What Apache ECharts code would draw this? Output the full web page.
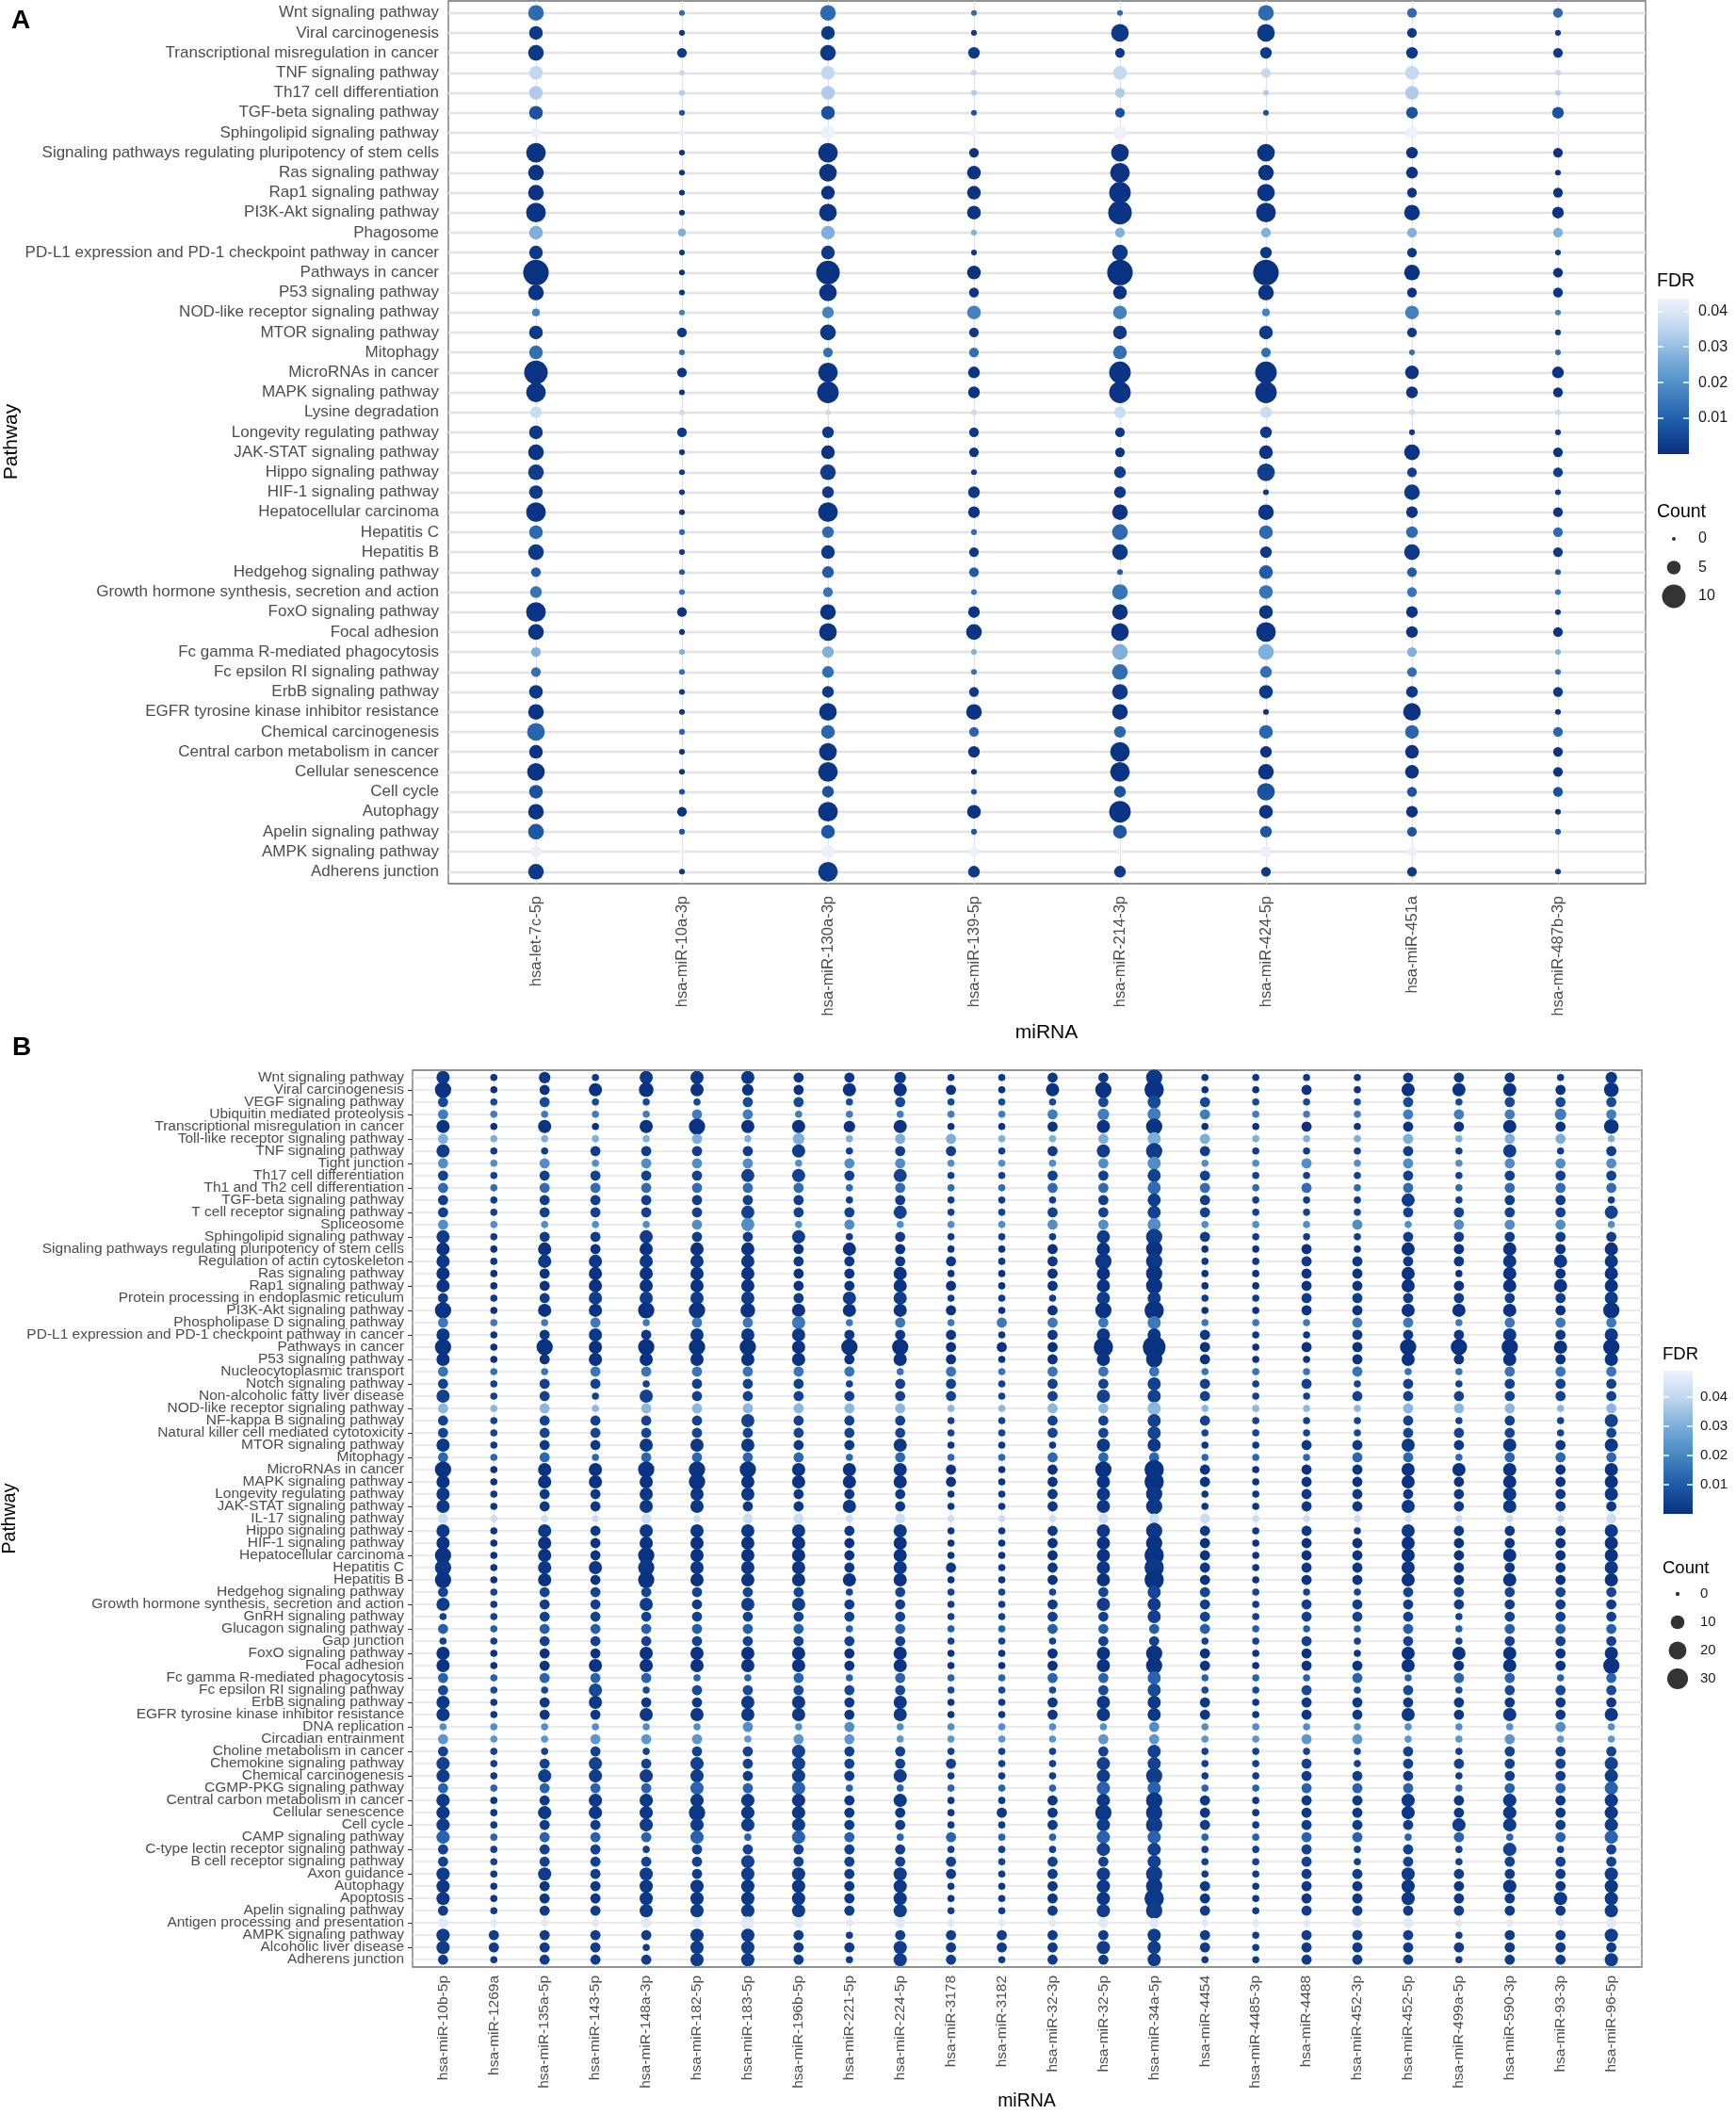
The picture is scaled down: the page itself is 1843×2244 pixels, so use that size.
<!DOCTYPE html>
<html><head><meta charset="utf-8">
<script src="https://cdn.jsdelivr.net/npm/echarts@6/dist/echarts.min.js"></script>
<style>html,body{margin:0;padding:0;background:#fff}#c{width:1843px;height:2244px}</style>
</head><body><div id="c"></div>
<script>
// ---------------- Panel A data ----------------
const pathwaysA = ["Wnt signaling pathway","Viral carcinogenesis","Transcriptional misregulation in cancer","TNF signaling pathway","Th17 cell differentiation","TGF-beta signaling pathway","Sphingolipid signaling pathway","Signaling pathways regulating pluripotency of stem cells","Ras signaling pathway","Rap1 signaling pathway","PI3K-Akt signaling pathway","Phagosome","PD-L1 expression and PD-1 checkpoint pathway in cancer","Pathways in cancer","P53 signaling pathway","NOD-like receptor signaling pathway","MTOR signaling pathway","Mitophagy","MicroRNAs in cancer","MAPK signaling pathway","Lysine degradation","Longevity regulating pathway","JAK-STAT signaling pathway","Hippo signaling pathway","HIF-1 signaling pathway","Hepatocellular carcinoma","Hepatitis C","Hepatitis B","Hedgehog signaling pathway","Growth hormone synthesis, secretion and action","FoxO signaling pathway","Focal adhesion","Fc gamma R-mediated phagocytosis","Fc epsilon RI signaling pathway","ErbB signaling pathway","EGFR tyrosine kinase inhibitor resistance","Chemical carcinogenesis","Central carbon metabolism in cancer","Cellular senescence","Cell cycle","Autophagy","Apelin signaling pathway","AMPK signaling pathway","Adherens junction"];
const mirnaA = ["hsa-let-7c-5p","hsa-miR-10a-3p","hsa-miR-130a-3p","hsa-miR-139-5p","hsa-miR-214-3p","hsa-miR-424-5p","hsa-miR-451a","hsa-miR-487b-3p"];
const countA = [
[6,1,6,1,1,6,3,3],[5,1,5,1,7,7,3,1],[6,3,6,4,3,4,4,3],[5,1,5,1,5,3,5,1],[5,1,5,1,3,1,5,1],
[5,1,5,1,3,1,4,4],[3,1,5,2,5,1,4,1],[8,1,8,3,7,7,4,3],[6,1,7,5,8,6,4,1],[6,1,5,5,9,7,3,3],
[8,1,7,5,10,8,6,4],[5,2,5,1,3,3,3,3],[5,1,5,1,6,4,3,1],[11,1,10,5,11,11,6,3],[6,1,7,3,5,6,3,3],
[2,1,4,5,5,2,5,1],[5,3,6,3,5,5,3,1],[5,1,3,3,5,3,1,1],[10,3,8,4,9,9,5,4],[8,1,9,4,9,9,4,3],
[4,1,1,1,4,4,1,1],[5,3,4,3,3,4,1,1],[6,1,5,3,3,5,6,3],[6,1,6,1,4,7,3,3],[5,1,4,4,4,1,6,1],
[8,1,8,4,6,6,4,3],[5,1,4,1,6,5,4,3],[6,1,5,3,6,4,6,3],[3,1,4,3,1,5,3,1],[4,1,3,1,6,5,3,1],
[8,3,6,4,6,5,4,1],[6,1,7,6,7,8,4,3],[3,1,4,1,6,6,3,1],[3,1,4,1,6,4,3,1],[5,1,4,3,6,5,4,3],
[6,1,7,6,6,1,7,1],[7,1,5,3,4,5,5,3],[5,1,7,4,8,4,5,3],[7,1,8,1,8,6,5,3],[5,1,4,1,4,7,3,3],
[6,3,8,5,9,5,4,1],[6,1,5,1,5,4,3,1],[4,1,5,3,1,4,3,1],[6,1,8,4,4,3,3,1]
];
const fdrA = [0.012,0.002,0.002,0.036,0.033,0.007,0.043,0.001,0.001,0.001,0.001,0.027,0.002,0.0005,0.001,0.017,0.002,0.013,0.001,0.001,0.037,0.002,0.001,0.003,0.002,0.001,0.012,0.002,0.009,0.014,0.001,0.001,0.027,0.013,0.002,0.001,0.011,0.001,0.001,0.007,0.001,0.008,0.043,0.002];

// ---------------- Panel B data ----------------
const pathwaysB = ["Wnt signaling pathway","Viral carcinogenesis","VEGF signaling pathway","Ubiquitin mediated proteolysis","Transcriptional misregulation in cancer","Toll-like receptor signaling pathway","TNF signaling pathway","Tight junction","Th17 cell differentiation","Th1 and Th2 cell differentiation","TGF-beta signaling pathway","T cell receptor signaling pathway","Spliceosome","Sphingolipid signaling pathway","Signaling pathways regulating pluripotency of stem cells","Regulation of actin cytoskeleton","Ras signaling pathway","Rap1 signaling pathway","Protein processing in endoplasmic reticulum","PI3K-Akt signaling pathway","Phospholipase D signaling pathway","PD-L1 expression and PD-1 checkpoint pathway in cancer","Pathways in cancer","P53 signaling pathway","Nucleocytoplasmic transport","Notch signaling pathway","Non-alcoholic fatty liver disease","NOD-like receptor signaling pathway","NF-kappa B signaling pathway","Natural killer cell mediated cytotoxicity","MTOR signaling pathway","Mitophagy","MicroRNAs in cancer","MAPK signaling pathway","Longevity regulating pathway","JAK-STAT signaling pathway","IL-17 signaling pathway","Hippo signaling pathway","HIF-1 signaling pathway","Hepatocellular carcinoma","Hepatitis C","Hepatitis B","Hedgehog signaling pathway","Growth hormone synthesis, secretion and action","GnRH signaling pathway","Glucagon signaling pathway","Gap junction","FoxO signaling pathway","Focal adhesion","Fc gamma R-mediated phagocytosis","Fc epsilon RI signaling pathway","ErbB signaling pathway","EGFR tyrosine kinase inhibitor resistance","DNA replication","Circadian entrainment","Choline metabolism in cancer","Chemokine signaling pathway","Chemical carcinogenesis","CGMP-PKG signaling pathway","Central carbon metabolism in cancer","Cellular senescence","Cell cycle","CAMP signaling pathway","C-type lectin receptor signaling pathway","B cell receptor signaling pathway","Axon guidance","Autophagy","Apoptosis","Apelin signaling pathway","Antigen processing and presentation","AMPK signaling pathway","Alcoholic liver disease","Adherens junction"];
const mirnaB = ["hsa-miR-10b-5p","hsa-miR-1269a","hsa-miR-135a-5p","hsa-miR-143-5p","hsa-miR-148a-3p","hsa-miR-182-5p","hsa-miR-183-5p","hsa-miR-196b-5p","hsa-miR-221-5p","hsa-miR-224-5p","hsa-miR-3178","hsa-miR-3182","hsa-miR-32-3p","hsa-miR-32-5p","hsa-miR-34a-5p","hsa-miR-4454","hsa-miR-4485-3p","hsa-miR-4488","hsa-miR-452-3p","hsa-miR-452-5p","hsa-miR-499a-5p","hsa-miR-590-3p","hsa-miR-93-3p","hsa-miR-96-5p"];
const countB = [
[9,1,6,1,9,9,9,4,4,6,1,1,4,4,16,1,1,1,1,4,4,4,1,6],
[16,1,4,9,12,9,6,4,9,9,4,1,9,16,25,1,1,4,1,9,9,9,4,12],
[4,1,4,1,1,1,4,4,1,4,1,1,1,4,9,4,1,1,1,4,1,4,4,4],
[4,1,1,1,1,4,4,1,1,1,1,1,4,6,9,4,1,1,1,4,4,4,6,4],
[9,1,9,1,9,16,9,9,6,9,1,1,4,9,16,1,1,4,1,4,4,9,4,12],
[4,1,1,1,1,4,1,6,1,4,4,1,1,4,9,4,1,1,1,4,1,4,4,1],
[9,1,1,4,4,4,4,9,1,4,4,1,4,9,16,4,1,1,1,4,1,9,1,4],
[4,1,4,1,4,4,4,1,4,4,1,1,1,4,9,1,1,4,1,4,1,4,4,4],
[4,1,4,4,4,4,9,9,4,9,1,1,4,4,9,4,1,1,1,4,1,4,4,4],
[4,1,4,4,4,4,4,4,1,4,1,1,4,4,9,4,1,4,1,4,1,4,4,4],
[4,1,4,4,4,4,4,4,1,4,1,1,1,4,9,4,1,1,1,9,1,4,4,1],
[4,1,4,4,4,4,9,4,4,9,1,1,4,4,9,4,1,1,1,4,4,4,4,9],
[4,1,1,1,1,4,9,1,4,1,1,1,4,4,9,1,1,1,4,1,4,4,4,1],
[9,1,4,4,9,4,4,9,1,4,1,1,1,9,16,4,1,1,1,4,4,4,4,4],
[9,1,9,4,9,9,9,4,9,4,1,1,4,9,16,1,1,4,1,9,4,9,4,9],
[9,1,9,9,9,9,9,4,4,4,4,1,4,16,16,1,1,4,4,4,4,9,9,9],
[9,1,4,9,9,9,9,4,4,9,1,1,4,9,16,1,1,4,4,9,1,9,4,9],
[9,1,4,9,9,9,9,4,4,9,4,1,4,9,16,1,1,4,4,9,4,9,9,9],
[4,1,4,9,9,9,9,4,9,9,1,1,1,9,9,1,1,4,4,4,4,4,4,9],
[16,1,9,9,16,16,12,9,9,9,4,1,4,16,25,1,1,4,4,9,9,9,4,16],
[4,1,1,4,1,4,4,9,1,4,1,4,4,4,9,1,1,1,4,4,1,4,4,4],
[9,1,4,9,4,9,9,9,4,4,4,1,4,9,9,4,1,1,4,4,4,9,4,9],
[16,1,16,9,16,16,16,9,16,16,4,4,4,25,37,4,1,4,4,16,16,16,9,16],
[9,1,4,9,9,9,9,9,4,9,4,1,4,9,16,4,1,1,4,9,4,9,4,9],
[4,1,1,4,4,4,4,4,4,1,4,1,4,4,4,1,1,1,4,1,1,4,4,4],
[4,1,4,4,1,4,4,4,1,4,4,1,4,4,9,4,1,4,1,4,1,4,4,4],
[9,1,4,1,9,4,4,4,4,4,4,1,4,9,9,4,1,1,4,4,4,4,4,4],
[4,1,4,1,4,4,4,4,4,4,1,1,4,4,9,1,1,1,1,4,4,4,1,4],
[4,1,4,4,4,4,9,4,4,4,1,1,4,4,9,4,1,1,1,4,1,4,1,9],
[4,1,4,4,4,4,4,4,4,4,1,1,4,4,9,1,1,1,1,4,4,4,1,4],
[9,1,4,4,9,9,9,4,4,9,1,1,1,9,9,1,1,4,4,9,4,9,4,9],
[4,1,4,1,4,4,4,4,1,4,1,1,4,4,4,1,1,1,4,4,1,4,4,4],
[16,1,9,9,16,16,16,9,9,9,4,1,4,16,25,4,1,4,4,9,9,9,4,9],
[9,1,9,9,9,16,9,9,9,9,4,1,4,9,25,4,1,4,4,9,4,9,4,9],
[9,1,4,4,9,9,9,4,4,4,1,1,4,9,16,1,1,4,4,4,4,9,4,9],
[9,1,4,4,9,9,4,4,9,4,1,1,4,9,16,1,1,4,4,9,4,9,4,4],
[4,1,1,1,4,1,4,4,1,4,1,1,1,4,4,4,1,1,1,1,1,1,1,4],
[9,1,9,4,9,9,9,9,4,9,1,1,4,9,16,4,1,4,1,9,4,4,4,9],
[9,1,9,4,9,9,9,9,4,9,1,1,4,9,16,4,1,4,4,9,4,4,4,9],
[16,1,9,4,16,9,9,9,4,9,1,1,4,9,25,4,1,4,4,9,4,9,4,9],
[16,1,9,9,16,9,9,9,4,9,4,1,4,9,25,4,1,4,4,9,4,4,4,9],
[16,1,9,4,16,9,9,9,9,9,1,1,4,9,25,4,1,4,4,9,4,9,4,9],
[4,1,4,4,4,4,4,4,1,4,1,1,1,4,9,4,1,1,1,4,4,4,4,4],
[9,1,4,4,9,4,9,9,4,4,1,1,4,9,9,4,1,4,4,4,4,4,4,4],
[1,1,4,4,4,4,4,4,4,4,1,1,4,4,9,4,1,4,4,4,1,4,4,4],
[4,1,4,4,4,4,4,4,1,4,1,1,4,4,4,4,1,1,1,4,1,4,4,4],
[1,1,4,4,4,4,4,4,4,4,1,1,1,4,4,1,1,4,1,4,1,4,4,4],
[9,1,4,4,9,9,9,9,4,9,1,1,4,9,16,4,1,4,1,9,9,9,4,9],
[9,1,4,9,9,9,9,9,4,9,1,1,4,9,16,4,1,4,4,9,4,9,4,16],
[4,1,4,4,4,1,1,4,1,4,1,1,4,4,9,1,1,1,4,1,4,4,1,4],
[4,1,1,9,1,4,4,4,4,4,1,1,1,4,9,1,1,4,1,4,1,4,4,4],
[9,1,4,9,4,4,9,9,4,9,1,1,4,9,9,4,1,4,4,4,4,4,4,4],
[9,1,4,4,9,9,9,9,4,9,1,1,4,9,9,4,1,4,4,9,4,9,4,9],
[1,1,1,1,1,1,4,1,4,1,1,1,1,1,4,1,1,1,1,1,1,1,4,1],
[4,1,1,4,4,4,1,4,4,1,1,1,1,4,4,1,1,4,4,1,1,4,1,1],
[4,1,1,4,1,4,4,9,4,4,1,1,1,4,9,1,1,1,1,4,1,4,4,4],
[9,1,4,9,4,9,4,9,4,4,4,1,1,9,9,1,1,4,1,4,4,4,4,9],
[9,1,9,9,9,9,4,9,4,9,1,1,1,9,16,1,1,4,4,4,1,4,4,9],
[4,1,4,4,4,9,4,9,1,1,1,1,1,9,9,1,1,4,4,4,1,4,4,9],
[9,1,4,9,9,9,9,9,4,9,1,1,4,9,16,4,1,4,4,9,4,9,4,9],
[9,1,9,9,9,16,9,9,4,4,1,4,4,16,16,4,1,4,4,9,4,9,4,9],
[9,1,4,4,9,9,9,9,4,4,1,1,4,9,16,4,1,4,4,4,9,9,4,9],
[9,1,4,4,4,9,1,9,4,1,4,1,1,9,9,1,1,4,4,1,4,1,4,9],
[4,1,4,4,1,4,4,4,4,4,1,1,1,9,9,1,1,4,1,4,1,9,1,4],
[4,1,4,4,4,4,9,4,4,4,4,1,4,4,9,1,1,4,1,4,1,4,4,4],
[9,1,9,4,9,4,9,9,4,9,4,1,4,9,16,1,1,4,4,9,4,4,4,9],
[9,1,4,4,9,9,9,9,4,9,1,1,4,9,16,4,1,4,4,9,4,9,4,9],
[9,1,4,4,9,9,9,9,4,9,1,1,4,9,25,4,1,4,4,9,4,4,9,9],
[4,1,4,4,9,9,9,9,4,9,1,1,4,9,16,4,1,4,4,4,4,4,4,9],
[4,1,1,1,4,4,9,4,1,4,1,1,1,4,4,1,1,1,4,4,1,1,1,4],
[9,4,4,4,4,9,9,4,1,4,4,4,4,4,9,4,1,4,4,4,1,4,4,9],
[9,4,4,4,1,9,9,4,4,9,4,4,4,9,9,4,1,4,4,4,4,4,4,4],
[4,1,4,4,4,9,9,4,1,9,4,1,4,4,9,1,1,4,4,4,1,4,4,9]
];
const fdrB = [0.002,0.001,0.006,0.018,0.001,0.03,0.003,0.022,0.004,0.014,0.003,0.004,0.022,0.003,0.001,0.002,0.001,0.001,0.003,0.001,0.017,0.002,0.0005,0.001,0.016,0.004,0.004,0.032,0.004,0.005,0.002,0.013,0.001,0.001,0.002,0.002,0.042,0.002,0.001,0.001,0.002,0.001,0.005,0.003,0.004,0.011,0.004,0.001,0.001,0.012,0.006,0.002,0.002,0.022,0.024,0.004,0.004,0.003,0.012,0.002,0.002,0.003,0.012,0.004,0.004,0.003,0.002,0.002,0.003,0.046,0.003,0.003,0.003];

// legend scales
const fdrTicks = [0.01, 0.02, 0.03, 0.04];
const countTicksA = [0, 5, 10];
const countTicksB = [0, 10, 20, 30];
const fdrMaxA = 0.0435;
const fdrMaxB = 0.049;
const blues = ['#08307f', '#1e5aa8', '#4584c2', '#78abd9', '#bcd5ee', '#eef2fc'];

function sizeA(c) { return 4 + 2.1 * c; }
function sizeB(c) { return 4.3 + 3.25 * Math.sqrt(c); }

const FONT = '"Liberation Sans", Arial, Helvetica, sans-serif';
const AXIS_TXT = '#4d4d4d';

function points(counts, fdr) {
  const d = [];
  counts.forEach((row, i) => row.forEach((c, j) => d.push([j, i, c, fdr[i]])));
  return d;
}
function gridLines(nx, ny, hw, vw) {
  const d = [];
  for (let i = 0; i < ny; i++) d.push({ coords: [[-0.6, i], [nx - 0.4, i]], lineStyle: { width: hw } });
  for (let j = 0; j < nx; j++) d.push({ coords: [[j, -0.6], [j, ny - 0.4]], lineStyle: { width: vw } });
  return d;
}
const idx = n => Array.from({ length: n }, (_, i) => i);
const evens = n => idx(n).filter(i => i % 2 === 0);
const odds = n => idx(n).filter(i => i % 2 === 1);
const gradStops = blues.map((c, i) => ({ offset: 1 - i / (blues.length - 1), color: c }));
const gradient = { type: 'linear', x: 0, y: 0, x2: 0, y2: 1, colorStops: gradStops.slice().sort((a, b) => a.offset - b.offset) };

function catXAxis(grid, names, fs, margin) {
  return {
    type: 'value', gridIndex: grid, min: -0.6, max: names.length - 0.4,
    axisLine: { show: false }, splitLine: { show: false },
    axisTick: { show: true, customValues: idx(names.length), length: 5, lineStyle: { color: '#333', width: 1 } },
    axisLabel: { show: true, customValues: idx(names.length), rotate: 90, margin: margin, fontSize: fs, color: AXIS_TXT, fontFamily: FONT,
      hideOverlap: false, showMinLabel: true, showMaxLabel: true,
      formatter: v => names[Math.round(v)] }
  };
}
function catYAxis(grid, names, fs, margin, values) {
  return {
    type: 'value', gridIndex: grid, inverse: true, min: -0.6, max: names.length - 0.4, position: 'left', offset: 0,
    axisLine: { show: false }, splitLine: { show: false },
    axisTick: { show: true, customValues: values, length: 5, lineStyle: { color: '#333', width: 1 } },
    axisLabel: { show: true, customValues: values, margin: margin, fontSize: fs, color: AXIS_TXT, fontFamily: FONT,
      hideOverlap: false, showMinLabel: true, showMaxLabel: true,
      formatter: v => names[Math.round(v)] }
  };
}
function barYAxis(grid, max, pos, showLabel, fs, margin) {
  return {
    type: 'value', gridIndex: grid, min: 0, max: max, position: pos, z: 10,
    axisLine: { show: false }, splitLine: { show: false },
    axisTick: { show: true, inside: true, length: 6, customValues: fdrTicks, lineStyle: { color: '#ffffff', width: 1.5 } },
    axisLabel: { show: showLabel, customValues: fdrTicks, margin: margin, fontSize: fs, color: '#1a1a1a', fontFamily: FONT,
      showMinLabel: true, showMaxLabel: true, formatter: v => v.toFixed(2) }
  };
}
function sizeLegendY(grid, ticks, fs, margin) {
  return {
    type: 'category', gridIndex: grid, data: ticks.map(String), inverse: true, position: 'right',
    axisLine: { show: false }, axisTick: { show: false }, splitLine: { show: false },
    axisLabel: { show: true, interval: 0, margin: margin, fontSize: fs, color: '#1a1a1a', fontFamily: FONT }
  };
}
function txt(text, x, y, size, opts) {
  return Object.assign({
    type: 'text', x: x, y: y, silent: true,
    style: Object.assign({ text: text, fontSize: size, fontFamily: FONT, fill: '#000',
      align: 'left', verticalAlign: 'middle', textAlign: 'left', textVerticalAlign: 'middle' }, (opts && opts.style) || {})
  }, (opts && opts.el) || {});
}

const gridBorder = { show: true, borderColor: '#6e6e6e', borderWidth: 1.3, backgroundColor: '#fff', outerBoundsMode: 'none', containLabel: false };

const option = {
  animation: false,
  backgroundColor: '#ffffff',
  textStyle: { fontFamily: FONT },
  grid: [
    Object.assign({ left: 476, top: 1, width: 1271, height: 937 }, gridBorder),
    Object.assign({ left: 438, top: 1136, width: 1305, height: 952 }, gridBorder),
    { left: 1760, top: 317, width: 33, height: 165, show: false, outerBoundsMode: 'none', containLabel: false },
    { left: 1761, top: 556.75, width: 32, height: 91.5, show: false, outerBoundsMode: 'none', containLabel: false },
    { left: 1766, top: 1455, width: 31, height: 152, show: false, outerBoundsMode: 'none', containLabel: false },
    { left: 1766, top: 1677, width: 30, height: 120, show: false, outerBoundsMode: 'none', containLabel: false }
  ],
  xAxis: [
    catXAxis(0, mirnaA, 16.5, 13),
    catXAxis(1, mirnaB, 15.5, 9),
    { type: 'category', gridIndex: 2, data: ['c'], show: false, boundaryGap: true },
    { type: 'value', gridIndex: 3, min: 0, max: 1, show: false },
    { type: 'category', gridIndex: 4, data: ['c'], show: false, boundaryGap: true },
    { type: 'value', gridIndex: 5, min: 0, max: 1, show: false }
  ],
  yAxis: [
    catYAxis(0, pathwaysA, 17, 10, idx(pathwaysA.length)),   // 0
    catYAxis(1, pathwaysB, 15.5, 9, evens(pathwaysB.length)), // 1
    catYAxis(1, pathwaysB, 15.5, 9, odds(pathwaysB.length)),  // 2
    barYAxis(2, fdrMaxA, 'right', true, 16, 10),              // 3
    barYAxis(2, fdrMaxA, 'left', false, 16, 10),              // 4
    sizeLegendY(3, countTicksA, 16, 10),                      // 5
    barYAxis(4, fdrMaxB, 'right', true, 15, 8),               // 6
    barYAxis(4, fdrMaxB, 'left', false, 15, 8),               // 7
    sizeLegendY(5, countTicksB, 15, 9)                        // 8
  ],
  visualMap: [
    { type: 'continuous', show: false, seriesIndex: 1, dimension: 3, min: 0, max: fdrMaxA, inRange: { color: blues } },
    { type: 'continuous', show: false, seriesIndex: 3, dimension: 3, min: 0, max: fdrMaxB, inRange: { color: blues } }
  ],
  series: [
    { type: 'lines', coordinateSystem: 'cartesian2d', xAxisIndex: 0, yAxisIndex: 0, z: 1, silent: true, polyline: false,
      lineStyle: { color: '#e3e3e3', width: 1.6, opacity: 1 }, data: gridLines(mirnaA.length, pathwaysA.length, 2.4, 1.2) },
    { type: 'scatter', xAxisIndex: 0, yAxisIndex: 0, z: 3, symbol: 'circle', progressive: 0,
      symbolSize: v => sizeA(v[2]), itemStyle: { opacity: 1 }, data: points(countA, fdrA) },
    { type: 'lines', coordinateSystem: 'cartesian2d', xAxisIndex: 1, yAxisIndex: 1, z: 1, silent: true, polyline: false,
      lineStyle: { color: '#e3e3e3', width: 1.4, opacity: 1 }, data: gridLines(mirnaB.length, pathwaysB.length, 1.7, 1.0) },
    { type: 'scatter', xAxisIndex: 1, yAxisIndex: 1, z: 3, symbol: 'circle', progressive: 0,
      symbolSize: v => sizeB(v[2]), itemStyle: { opacity: 1 }, data: points(countB, fdrB) },
    { type: 'bar', xAxisIndex: 2, yAxisIndex: 3, barWidth: '100%', silent: true, itemStyle: { color: gradient }, data: [fdrMaxA] },
    { type: 'scatter', xAxisIndex: 3, yAxisIndex: 5, silent: true, symbol: 'circle', itemStyle: { color: '#000' },
      symbolSize: v => sizeA(v[2]), data: countTicksA.map((c, i) => [0.5, i, c]) },
    { type: 'bar', xAxisIndex: 4, yAxisIndex: 6, barWidth: '100%', silent: true, itemStyle: { color: gradient }, data: [fdrMaxB] },
    { type: 'scatter', xAxisIndex: 5, yAxisIndex: 8, silent: true, symbol: 'circle', itemStyle: { color: '#000' },
      symbolSize: v => sizeB(v[2]), data: countTicksB.map((c, i) => [0.5, i, c]) }
  ],
  graphic: [
    txt('A', 12, 22, 28, { style: { fontWeight: 'bold' } }),
    txt('B', 13, 1112, 28, { style: { fontWeight: 'bold' } }),
    txt('Pathway', 12, 469, 21, { style: { align: 'center', textAlign: 'center' }, el: { rotation: Math.PI / 2 } }),
    txt('Pathway', 11, 1612, 19.5, { style: { align: 'center', textAlign: 'center' }, el: { rotation: Math.PI / 2 } }),
    txt('miRNA', 1111, 1096, 21, { style: { align: 'center', textAlign: 'center' } }),
    txt('miRNA', 1090, 2231, 19.5, { style: { align: 'center', textAlign: 'center' } }),
    txt('FDR', 1759, 299, 19.5),
    txt('Count', 1759, 544, 19.5),
    txt('FDR', 1765, 1438, 18.5),
    txt('Count', 1765, 1665, 18.5)
  ]
};

const chart = echarts.init(document.getElementById('c'), null, { renderer: 'canvas', width: 1843, height: 2244 });
chart.setOption(option);
</script>
</body></html>
